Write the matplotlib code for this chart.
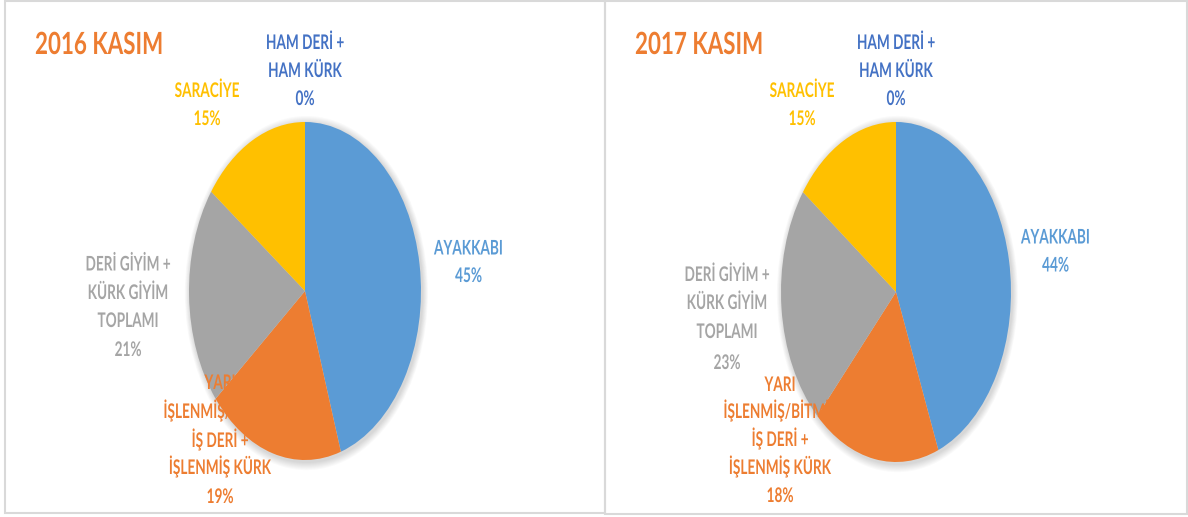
import matplotlib
matplotlib.use('Agg')
import matplotlib.pyplot as plt
from matplotlib.patches import Rectangle, Ellipse
from matplotlib.patheffects import AbstractPathEffect
from matplotlib.transforms import Affine2D

# ---- data ----
categories = ['AYAKKABI',
              'YARI\nİŞLENMİŞ/BİTMİŞ\nİŞ DERİ +\nİŞLENMİŞ KÜRK',
              'DERİ GİYİM +\nKÜRK GİYİM\nTOPLAMI',
              'SARACİYE',
              'HAM DERİ +\nHAM KÜRK']
values_2016 = [45, 19, 21, 15, 0]
values_2017 = [44, 18, 23, 15, 0]
titles = ['2016 KASIM', '2017 KASIM']

# ---- style ----
slice_colors = ['#5B9BD5', '#ED7D31', '#A5A5A5', '#FFC000', '#4472C4']
title_color = '#ED7D31'
border_color = '#D9D9D9'
FAM = ['Lato', 'DejaVu Sans']


class XScale(AbstractPathEffect):
    """Horizontally condense glyphs around an anchor x (display px)."""
    def __init__(self, sx, x0):
        super().__init__()
        self.sx, self.x0 = sx, x0

    def draw_path(self, renderer, gc, tpath, affine, rgbFace=None):
        t = affine + Affine2D().translate(-self.x0, 0).scale(self.sx, 1).translate(self.x0, 0)
        renderer.draw_path(gc, tpath, t, rgbFace)


W, H = 1188, 517
fig = plt.figure(figsize=(W / 100, H / 100), dpi=100)

pies = [
    dict(values=values_2016, title=titles[0], cx=305, cy=291, rx=116, ry=169,
         title_xy=(35, 54),
         label_pos=[(468.5, [247.5, 275]),
                    (220, [382, 411, 440, 467, 496]),
                    (128, [263.5, 292, 320, 349]),
                    (207, [90, 118]),
                    (305, [42, 70, 98])]),
    dict(values=values_2017, title=titles[1], cx=896, cy=292, rx=115, ry=170,
         title_xy=(635, 54),
         label_pos=[(1055.5, [236.5, 264.5]),
                    (780, [384, 411, 439, 467, 495]),
                    (727, [274, 302, 331, 362]),
                    (802, [90, 118]),
                    (896, [42, 70, 98])]),
]

for p in pies:
    left = (p['cx'] - p['rx']) / W
    bottom = (H - (p['cy'] + p['ry'])) / H
    ax = fig.add_axes([left, bottom, 2 * p['rx'] / W, 2 * p['ry'] / H], zorder=1)
    for k in range(8):
        g = 1 + 0.006 * (k + 1)
        ax.add_patch(Ellipse((0.012, -0.012), 2 * g, 2 * g, facecolor='#000000',
                             alpha=0.02, edgecolor='none', zorder=0, clip_on=False))
    wedges, _ = ax.pie(p['values'], colors=slice_colors, startangle=90,
                       counterclock=False, radius=1,
                       wedgeprops=dict(linewidth=0))
    for w in wedges:
        w.set_zorder(2)
    ax.set_aspect('auto')
    ax.set_xlim(-1, 1)
    ax.set_ylim(-1, 1)
    ax.axis('off')

ov = fig.add_axes([0, 0, 1, 1], zorder=3)
ov.set_xlim(0, W)
ov.set_ylim(H, 0)
ov.axis('off')
ov.patch.set_alpha(0)

ov.add_patch(Rectangle((4.5, 1), 600.5, 512, fill=False, edgecolor=border_color, lw=1.5))
ov.add_patch(Rectangle((605, 1), 581.5, 513, fill=False, edgecolor=border_color, lw=1.5))

title_texts = []
label_texts = []
for p in pies:
    t = ov.text(p['title_xy'][0], p['title_xy'][1], p['title'], color=title_color,
                fontsize=22, fontweight='bold', family=FAM, ha='left', va='baseline')
    title_texts.append(t)
    for cat, val, col, (lx, ys) in zip(categories, p['values'], slice_colors, p['label_pos']):
        lines = cat.split('\n') + [f'{val}%']
        for line, y in zip(lines, ys):
            lt = ov.text(lx, y + 7, line, color=col, fontsize=14.5, fontweight='bold',
                         family=FAM, ha='center', va='baseline')
            label_texts.append(lt)

# calibrate the horizontal condensing against measured reference widths
fig.canvas.draw()
r = fig.canvas.get_renderer()
sx_label = 69.0 / label_texts[0].get_window_extent(r).width   # "AYAKKABI"
sx_title = 128.0 / title_texts[0].get_window_extent(r).width

for t in label_texts:
    x0 = ov.transData.transform(t.get_position())[0]
    t.set_path_effects([XScale(sx_label, x0)])
for t in title_texts:
    x0 = ov.transData.transform(t.get_position())[0]
    t.set_path_effects([XScale(sx_title, x0)])

fig.savefig('out.png', dpi=100, facecolor='white')
